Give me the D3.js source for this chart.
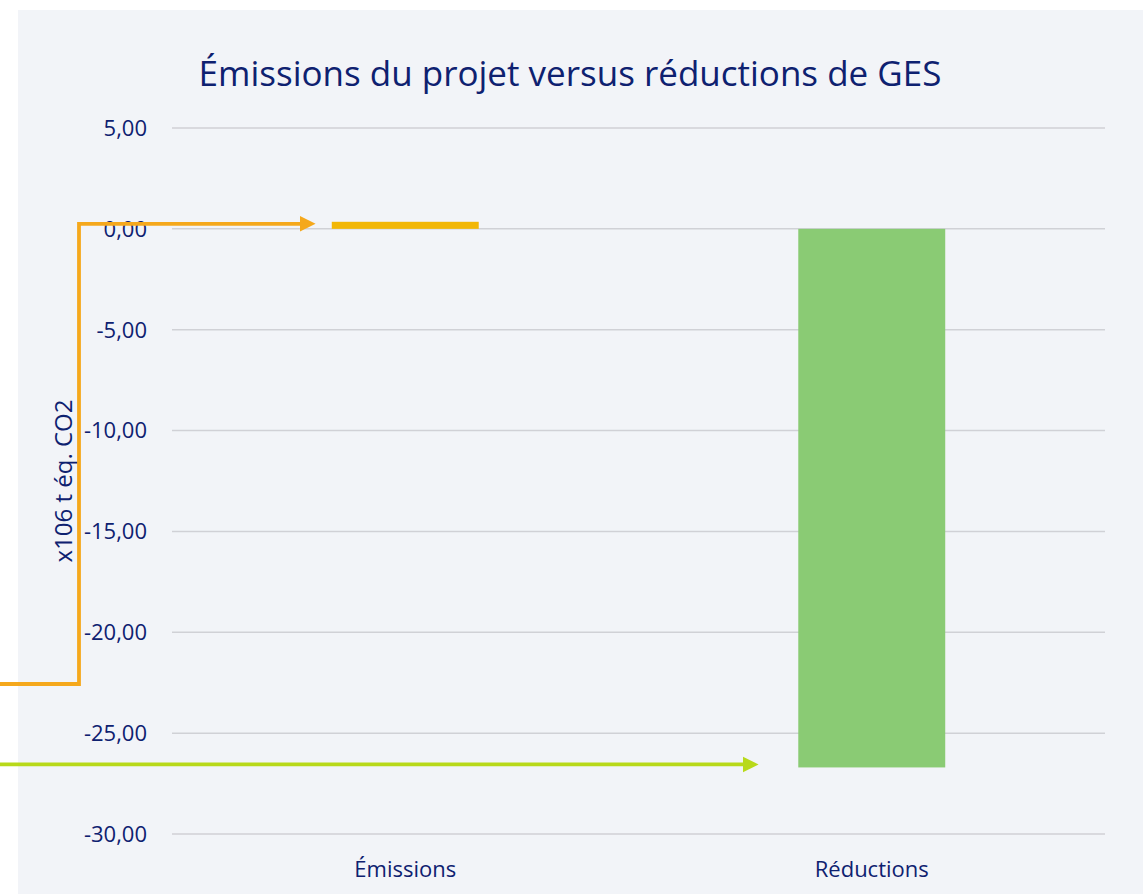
<!DOCTYPE html>
<html>
<head>
<meta charset="utf-8">
<script src="https://cdn.jsdelivr.net/npm/d3@7"></script>
<style>
  html, body { margin: 0; padding: 0; background: #ffffff; }
  svg { display: block; font-family: "Open Sans", "Noto Sans", sans-serif; }
</style>
</head>
<body>
<svg id="chart" width="1143" height="894"></svg>
<script>
// data
const categories = ["Émissions", "Réductions"];
const values = [0.35, -26.7];
const barColors = ["#F2B705", "#8ACB74"];
const yTicks = [5, 0, -5, -10, -15, -20, -25, -30];

const W = 1143, H = 894;
const plot = { left: 172, right: 1105, top: 128, bottom: 834 };
const navy = "#0E2170";

const svg = d3.select("#chart");

// panel background
svg.append("rect")
    .attr("x", 18).attr("y", 10)
    .attr("width", W - 18).attr("height", H - 10)
    .attr("fill", "#F2F4F8");

const x = d3.scaleBand()
    .domain(categories)
    .range([plot.left, plot.right])
    .paddingInner(0.685)
    .paddingOuter(0.3425);

const y = d3.scaleLinear()
    .domain([-30, 5])
    .range([plot.bottom, plot.top]);

// gridlines
svg.append("g")
    .selectAll("line")
    .data(yTicks)
    .join("line")
    .attr("x1", plot.left).attr("x2", plot.right)
    .attr("y1", d => y(d)).attr("y2", d => y(d))
    .attr("stroke", "#D0D1D6")
    .attr("stroke-width", 1.5);

// y tick labels
const fmt = d => d3.format(".2f")(d).replace(".", ",").replace("−", "-");
svg.append("g")
    .selectAll("text")
    .data(yTicks)
    .join("text")
    .attr("x", 147)
    .attr("y", d => y(d))
    .attr("dy", "0.36em")
    .attr("text-anchor", "end")
    .attr("font-size", 22)
    .attr("fill", navy)
    .text(fmt);

// bars
svg.append("g")
    .selectAll("rect")
    .data(values)
    .join("rect")
    .attr("x", (d, i) => x(categories[i]))
    .attr("width", x.bandwidth())
    .attr("y", d => y(Math.max(0, d)))
    .attr("height", d => Math.abs(y(d) - y(0)))
    .attr("fill", (d, i) => barColors[i]);

// category labels
svg.append("g")
    .selectAll("text")
    .data(categories)
    .join("text")
    .attr("x", d => x(d) + x.bandwidth() / 2)
    .attr("y", 877)
    .attr("text-anchor", "middle")
    .attr("font-size", 22)
    .attr("fill", navy)
    .text(d => d);

// title
svg.append("text")
    .attr("x", 570)
    .attr("y", 86)
    .attr("text-anchor", "middle")
    .attr("font-size", 35)
    .attr("fill", navy)
    .text("Émissions du projet versus réductions de GES");

// y axis title
svg.append("text")
    .attr("transform", "translate(72,481) rotate(-90)")
    .attr("text-anchor", "middle")
    .attr("font-size", 24)
    .attr("fill", navy)
    .text("x106 t éq. CO2");

// annotation arrows
const defs = svg.append("defs");
const marker = (id, color) => defs.append("marker")
    .attr("id", id)
    .attr("viewBox", "0 0 10 10")
    .attr("refX", 0).attr("refY", 5)
    .attr("markerWidth", 4.1).attr("markerHeight", 4.3)
    .attr("markerUnits", "strokeWidth")
    .attr("orient", "auto")
    .append("path")
    .attr("d", "M0,0 L10,5 L0,10 Z")
    .attr("fill", color);
marker("arrow-orange", "#F5A81C");
marker("arrow-green", "#B8D91A");

const emY = y(values[0]) + 2;
svg.append("path")
    .attr("d", `M0,684 H79 V${emY} H300`)
    .attr("fill", "none")
    .attr("stroke", "#F5A81C")
    .attr("stroke-width", 3.8)
    .attr("marker-end", "url(#arrow-orange)");

const redY = y(values[1]) - 3;
svg.append("path")
    .attr("d", `M0,${redY} H743`)
    .attr("fill", "none")
    .attr("stroke", "#B8D91A")
    .attr("stroke-width", 3.8)
    .attr("marker-end", "url(#arrow-green)");
</script>
</body>
</html>
